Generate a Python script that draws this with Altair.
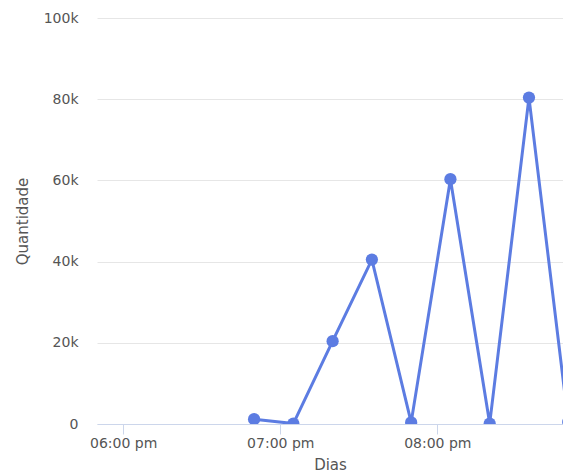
import altair as alt
import pandas as pd

# Quarter-hourly counts
times = [
    "2024-01-01T18:50:00", "2024-01-01T19:05:00", "2024-01-01T19:20:00",
    "2024-01-01T19:35:00", "2024-01-01T19:50:00", "2024-01-01T20:05:00",
    "2024-01-01T20:20:00", "2024-01-01T20:35:00", "2024-01-01T20:50:00",
]
counts = [1200, 100, 20400, 40500, 400, 60300, 100, 80400, 500]

df = pd.DataFrame({"Dias": times, "Quantidade": counts})

line_color = "#5c7ce2"
font = "DejaVu Sans"

x_enc = alt.X(
    "Dias:T",
    title="Dias",
    scale=alt.Scale(
        domain=[
            alt.DateTime(year=2024, month=1, date=1, hours=17, minutes=50),
            alt.DateTime(year=2024, month=1, date=1, hours=20, minutes=48),
        ]
    ),
    axis=alt.Axis(
        values=[
            alt.DateTime(year=2024, month=1, date=1, hours=18),
            alt.DateTime(year=2024, month=1, date=1, hours=19),
            alt.DateTime(year=2024, month=1, date=1, hours=20),
        ],
        labelExpr="lower(timeFormat(datum.value, '%I:%M %p'))",
        grid=False,
        domainColor="#ccd6eb",
        tickColor="#ccd6eb",
        tickSize=10,
        labelColor="#555555",
        labelFontSize=14,
        labelFont=font,
        labelPadding=2,
        titleColor="#555555",
        titleFontSize=15,
        titleFont=font,
        titleFontWeight="normal",
        titlePadding=7,
    ),
)

y_enc = alt.Y(
    "Quantidade:Q",
    title="Quantidade",
    scale=alt.Scale(domain=[0, 100000], nice=False),
    axis=alt.Axis(
        values=[0, 20000, 40000, 60000, 80000, 100000],
        labelExpr="datum.value == 0 ? '0' : (datum.value / 1000) + 'k'",
        domain=False,
        ticks=False,
        gridColor="#e6e6e6",
        labelColor="#555555",
        labelFontSize=14,
        labelFont=font,
        labelPadding=19,
        titleColor="#555555",
        titleFontSize=15,
        titleFont=font,
        titleFontWeight="normal",
        titlePadding=13,
    ),
)

base = alt.Chart(df).encode(x=x_enc, y=y_enc)

line = base.mark_line(color=line_color, strokeWidth=3, clip=True)
points = base.mark_circle(color=line_color, size=150, opacity=1, clip=True)

chart = (
    (line + points)
    .properties(
        width=466,
        height=406,
        padding={"left": 97, "top": 18, "right": 0, "bottom": 52},
        autosize=alt.AutoSizeParams(type="none"),
        background="white",
    )
    .configure_view(stroke=None)
)

chart.save("out.html", embed_options={"renderer": "svg", "actions": False})
